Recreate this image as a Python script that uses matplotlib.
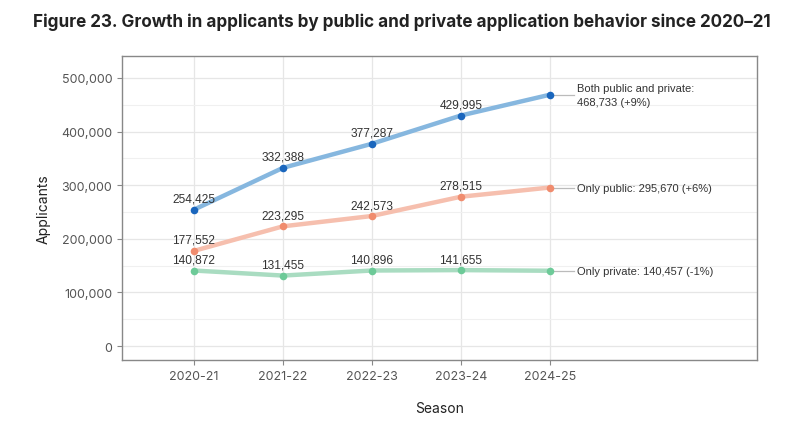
import matplotlib
import matplotlib.pyplot as plt
from matplotlib.ticker import FuncFormatter, MultipleLocator

matplotlib.use("Agg")

seasons = ["2020-21", "2021-22", "2022-23", "2023-24", "2024-25"]
both = [254425, 332388, 377287, 429995, 468733]
only_public = [177552, 223295, 242573, 278515, 295670]
only_private = [140872, 131455, 140896, 141655, 140457]

end_labels = [
    "Both public and private:\n468,733 (+9%)",
    "Only public: 295,670 (+6%)",
    "Only private: 140,457 (-1%)",
]

series = [
    (both, "#86b7df", "#1a66bd"),
    (only_public, "#f6bfae", "#f08c6e"),
    (only_private, "#a9dcc1", "#6dca98"),
]

label_font = ["Liberation Sans", "DejaVu Sans"]
axis_font = ["Inter", "DejaVu Sans"]

fig = plt.figure(figsize=(8.04, 4.27), dpi=100)
ax = fig.add_axes([0.1517, 0.1546, 0.7898, 0.7119])

x = list(range(len(seasons)))
for (vals, line_c, dot_c), end_txt in zip(series, end_labels):
    ax.plot(x, vals, color=line_c, linewidth=3.2, solid_capstyle="round", zorder=3)
    ax.scatter(x, vals, color=dot_c, s=30, zorder=4, linewidths=0)
    for xi, v in zip(x[:-1], vals[:-1]):
        ax.annotate(f"{v:,}", (xi, v), xytext=(0, 3.5), textcoords="offset points",
                    ha="center", va="bottom", fontsize=8.6, color="#333333",
                    family=label_font, zorder=5)
    # label at the end of each line, with a thin connector
    ax.plot([x[-1], x[-1] + 0.27], [vals[-1], vals[-1]], color="#bbbbbb", linewidth=0.9, zorder=2)
    ax.text(x[-1] + 0.31, vals[-1], end_txt, ha="left", va="center",
            fontsize=8, color="#333333", linespacing=1.5, family=label_font)

ax.set_xlim(-0.81, 6.33)
ax.set_ylim(-26000, 541000)
ax.set_xticks(x)
ax.set_xticklabels(seasons)
ax.yaxis.set_major_locator(MultipleLocator(100000))
ax.yaxis.set_minor_locator(MultipleLocator(50000))
ax.yaxis.set_major_formatter(FuncFormatter(lambda v, p: f"{int(v):,}"))

ax.grid(True, which="major", color="#e6e6e6", linewidth=0.9)
ax.grid(True, which="minor", axis="y", color="#f0f0f0", linewidth=0.8)
ax.set_axisbelow(True)
for s in ax.spines.values():
    s.set_color("#888888")
    s.set_linewidth(1.0)
ax.tick_params(axis="both", which="major", colors="#888888", labelcolor="#555555",
               labelsize=9, length=3.5)
ax.tick_params(axis="y", which="minor", length=0)
for lbl in ax.get_xticklabels() + ax.get_yticklabels():
    lbl.set_family(axis_font)

ax.set_xlabel("Season", fontsize=10, color="#222222", family=axis_font)
ax.set_ylabel("Applicants", fontsize=10, color="#222222", family=axis_font)
ax.xaxis.set_label_coords(0.5, -0.135)
ax.yaxis.set_label_coords(-0.112, 0.5)

fig.text(0.5, 0.948, "Figure 23. Growth in applicants by public and private application behavior since 2020\u201321",
         ha="center", va="center", fontsize=12.3, fontweight="bold",
         family=["Inter", "DejaVu Sans"], color="#222222")

fig.savefig("out.png", dpi=100, facecolor="white")
